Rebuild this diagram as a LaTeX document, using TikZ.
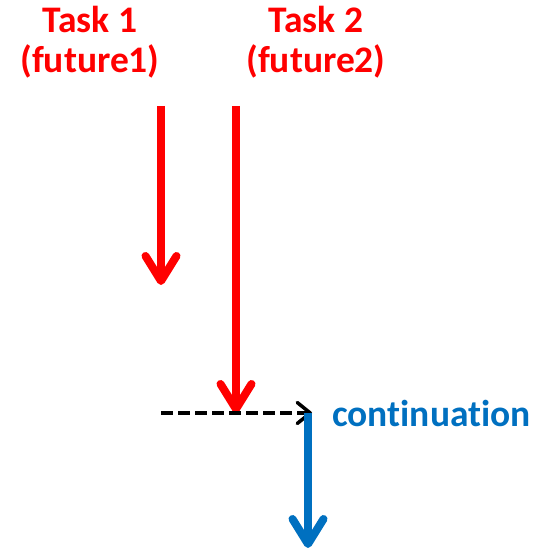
\documentclass[tikz,border=0pt]{standalone}
\usepackage{fontspec}
\setmainfont{Carlito}[Ligatures=NoCommon]
\usetikzlibrary{arrows.meta}
\definecolor{taskred}{RGB}{255,0,0}
\definecolor{contblue}{RGB}{0,112,192}
\begin{document}
\begin{tikzpicture}[x=1pt,y=1pt,
  lbl/.style={font=\fontsize{37.5}{44}\selectfont\bfseries, inner sep=0pt, anchor=base},
  taskarrow/.style={line width=8pt, draw=taskred,
    -{Straight Barb[round,length=25pt,width=31pt]}},
  contarrow/.style={line width=8pt, draw=contblue,
    -{Straight Barb[round,length=25pt,width=31pt]}},
  waitarrow/.style={line width=3.5pt, draw=black, dash pattern=on 12pt off 5pt,
    -{Straight Barb[round,length=13pt,width=21pt]}}]
\useasboundingbox (0,0) rectangle (543,549);

% labels
\node[lbl, text=taskred] (t1a) at (90,516) {Task 1};
\node[lbl, text=taskred] (t1b) at (90,476) {(future1)};
\node[lbl, text=taskred] (t2a) at (316,516) {Task 2};
\node[lbl, text=taskred] (t2b) at (316,476) {(future2)};
\node[lbl, text=contblue, anchor=base west] (cont) at (332,122) {continuation};

% key points
\coordinate (s1) at (161,443);
\coordinate (e1) at (161,264);
\coordinate (s2) at (236,443);
\coordinate (j) at (236,136);
\coordinate (w0) at (161,136);
\coordinate (w1) at (312,136);
\coordinate (c0) at (308,136);
\coordinate (c1) at (308,1);

% tasks
\draw[taskarrow] (s1) -- (e1);
\draw[taskarrow] (s2) -- (j);
% wait for both, then run the continuation
\draw[waitarrow] (w0) -- (w1);
\draw[contarrow] (c0) -- (c1);
\end{tikzpicture}
\end{document}
